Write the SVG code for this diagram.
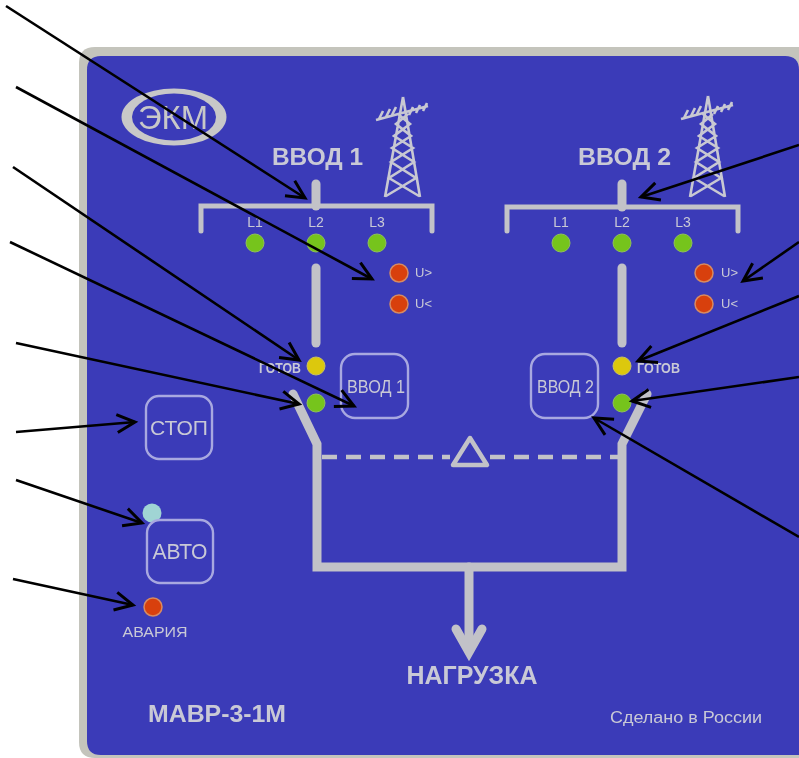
<svg xmlns="http://www.w3.org/2000/svg" width="799" height="758" viewBox="0 0 799 758">
<style>
text{font-family:"Liberation Sans",Arial,sans-serif;fill:#c9c9d6}
.b{font-weight:bold}
.m{text-anchor:middle}
.bar{fill:none;stroke:#c2c2c8;stroke-width:9;stroke-linecap:round;stroke-linejoin:miter}
.bus{fill:none;stroke:#c2c2c8;stroke-width:5;stroke-linecap:round;stroke-linejoin:miter}
.btn{fill:#3a3ab8;stroke:#a8a8e0;stroke-width:2.4}
.g{fill:#76c41a;stroke:#8fbf5a;stroke-width:1}
.r{fill:#d8400f;stroke:#d88a60;stroke-width:1.5}
.y{fill:#dcc810;stroke:#c8c060;stroke-width:1}
.tw{fill:none;stroke:#c8c8d2;stroke-width:2.6}
.a{fill:none;stroke:#000;stroke-width:2.6;marker-end:url(#open)}
</style>
<defs>
<marker id="open" markerUnits="userSpaceOnUse" markerWidth="30" markerHeight="30" refX="24" refY="15" orient="auto" overflow="visible">
<path d="M6,6 L24,15 L6,24" fill="none" stroke="#000" stroke-width="3"/>
</marker>
<filter id="soft" x="-5%" y="-5%" width="110%" height="110%"><feGaussianBlur stdDeviation="0.6"/></filter>
</defs>
<rect width="799" height="758" fill="#fff"/>
<g id="panel" filter="url(#soft)">
<path d="M95,47 H799 V758 H95 Q79,758 79,742 V63 Q79,47 95,47 Z" fill="#c4c4bc"/>
<path d="M101,56 H785 Q799,56 799,70 V755 H101 Q87,755 87,741 V70 Q87,56 101,56 Z" fill="#3a3ab8"/>
</g>
<g id="logo" filter="url(#soft)">
<ellipse cx="174" cy="117" rx="52.500" ry="28.500" fill="#c8c8c8"/>
<ellipse cx="174" cy="117" rx="42" ry="23.500" fill="#3a3ab8"/>
<text x="173" y="129" class="m" font-size="33" textLength="70" lengthAdjust="spacingAndGlyphs" style="fill:#c8c8c8">ЭКМ</text>
</g>
<g id="tower1" filter="url(#soft)">
<path class="tw" d="M403,97 L385,197 M403,97 L420,197 M386,196 L416,178 L391,162 L413,148 L394,136 L410,124 L398,114 M419,196 L389,178 L414,162 L392,148 L411,136 L396,124 L408,114 M376,120 L428,106 M383,111 L379,119 M390,109 L386,117 M396,107 L392,115 M413,107 L409,115 M420,105 L416,113 M427,103 L423,111"/>
</g>
<g id="tower2" filter="url(#soft)">
<path class="tw" d="M708,96 L690,197 M708,96 L725,197 M691,196 L721,178 L696,162 L718,148 L699,136 L715,124 L703,114 M724,196 L694,178 L719,162 L697,148 L716,136 L701,124 L713,114 M681,119 L733,105 M688,110 L684,118 M695,108 L691,116 M701,106 L697,114 M718,106 L714,114 M725,104 L721,112 M732,102 L728,110"/>
</g>
<g id="input1" filter="url(#soft)">
<text x="272" y="165" class="b" font-size="24" textLength="91" lengthAdjust="spacingAndGlyphs">ВВОД 1</text>
<path class="bus" d="M201,231 V206 H432 V231"/>
<path class="bar" d="M316,184 V206"/>
<text x="255" y="227" class="m" font-size="14">L1</text>
<text x="316" y="227" class="m" font-size="14">L2</text>
<text x="377" y="227" class="m" font-size="14">L3</text>
<circle class="g" cx="255" cy="243" r="9"/><circle class="g" cx="316" cy="243" r="9"/><circle class="g" cx="377" cy="243" r="9"/>
<circle class="r" cx="399" cy="273" r="9"/><circle class="r" cx="399" cy="304" r="9"/>
<text x="415" y="277" font-size="13">U&gt;</text>
<text x="415" y="308" font-size="13">U&lt;</text>
<path class="bar" d="M316,268 V343"/>
<text x="301" y="373" class="b" font-size="14" text-anchor="end" textLength="42" lengthAdjust="spacingAndGlyphs">ГОТОВ</text>
<circle class="y" cx="316" cy="366" r="9"/>
<circle class="g" cx="316" cy="403" r="9"/>
<rect class="btn" x="341" y="354" width="67" height="64" rx="14"/>
<text x="347" y="393" font-size="19" textLength="58" lengthAdjust="spacingAndGlyphs">ВВОД 1</text>
</g>
<g id="input2" filter="url(#soft)">
<text x="578" y="165" class="b" font-size="24" textLength="93" lengthAdjust="spacingAndGlyphs">ВВОД 2</text>
<path class="bus" d="M507,231 V207 H738 V231"/>
<path class="bar" d="M622,184 V207"/>
<text x="561" y="227" class="m" font-size="14">L1</text>
<text x="622" y="227" class="m" font-size="14">L2</text>
<text x="683" y="227" class="m" font-size="14">L3</text>
<circle class="g" cx="561" cy="243" r="9"/><circle class="g" cx="622" cy="243" r="9"/><circle class="g" cx="683" cy="243" r="9"/>
<circle class="r" cx="704" cy="273" r="9"/><circle class="r" cx="704" cy="304" r="9"/>
<text x="721" y="277" font-size="13">U&gt;</text>
<text x="721" y="308" font-size="13">U&lt;</text>
<path class="bar" d="M622,268 V343"/>
<text x="637" y="373" class="b" font-size="14" textLength="43" lengthAdjust="spacingAndGlyphs">ГОТОВ</text>
<circle class="y" cx="622" cy="366" r="9"/>
<circle class="g" cx="622" cy="403" r="9"/>
<rect class="btn" x="531" y="354" width="67" height="64" rx="14"/>
<text x="537" y="393" font-size="19" textLength="57" lengthAdjust="spacingAndGlyphs">ВВОД 2</text>
</g>
<g id="switch" filter="url(#soft)">
<path class="bar" d="M293,394 L317,444 V567 H622 V444 L647,394"/>
<path d="M322,457 H450 M490,457 H620" fill="none" stroke="#c2c2c8" stroke-width="4.500" stroke-dasharray="15,9"/>
<path d="M453,465 L470,438 L487,465 Z" fill="none" stroke="#c2c2c8" stroke-width="4.500" stroke-linejoin="round"/>
<path class="bar" d="M469,567 V650"/>
<path class="bar" d="M456,629 L469,652 L482,629"/>
<text x="472" y="684" class="m b" font-size="25" textLength="131" lengthAdjust="spacingAndGlyphs">НАГРУЗКА</text>
</g>
<g id="stop" filter="url(#soft)">
<rect class="btn" x="146" y="396" width="66" height="63" rx="13"/>
<text x="179" y="435" class="m" font-size="20" textLength="58" lengthAdjust="spacingAndGlyphs">СТОП</text>
</g>
<g id="auto" filter="url(#soft)">
<circle cx="152" cy="513" r="9.500" fill="#a0d4d4"/>
<rect class="btn" x="147" y="520" width="66" height="63" rx="13"/>
<text x="180" y="559" class="m" font-size="22" textLength="55" lengthAdjust="spacingAndGlyphs">АВТО</text>
</g>
<g id="alarm" filter="url(#soft)">
<circle class="r" cx="153" cy="607" r="9"/>
<text x="155" y="637" class="m" font-size="14" textLength="65" lengthAdjust="spacingAndGlyphs">АВАРИЯ</text>
</g>
<g id="footer" filter="url(#soft)">
<text x="148" y="722" class="b" font-size="23" textLength="138" lengthAdjust="spacingAndGlyphs">МАВР-3-1М</text>
<text x="610" y="723" font-size="16" textLength="152" lengthAdjust="spacingAndGlyphs">Сделано в России</text>
</g>
<g id="connectors">
<line class="a" x1="6" y1="6" x2="305" y2="198"/>
<line class="a" x1="16" y1="87" x2="372" y2="279"/>
<line class="a" x1="13" y1="167" x2="299" y2="360"/>
<line class="a" x1="10" y1="242" x2="354" y2="406"/>
<line class="a" x1="16" y1="343" x2="299" y2="404"/>
<line class="a" x1="16" y1="432" x2="135" y2="422"/>
<line class="a" x1="16" y1="480" x2="142" y2="523"/>
<line class="a" x1="13" y1="579" x2="133" y2="605"/>
<line class="a" x1="799" y1="145" x2="641" y2="197"/>
<line class="a" x1="799" y1="242" x2="743" y2="281"/>
<line class="a" x1="799" y1="296" x2="638" y2="361"/>
<line class="a" x1="799" y1="377" x2="632" y2="401"/>
<line class="a" x1="799" y1="537" x2="594" y2="418"/>
</g>
</svg>
